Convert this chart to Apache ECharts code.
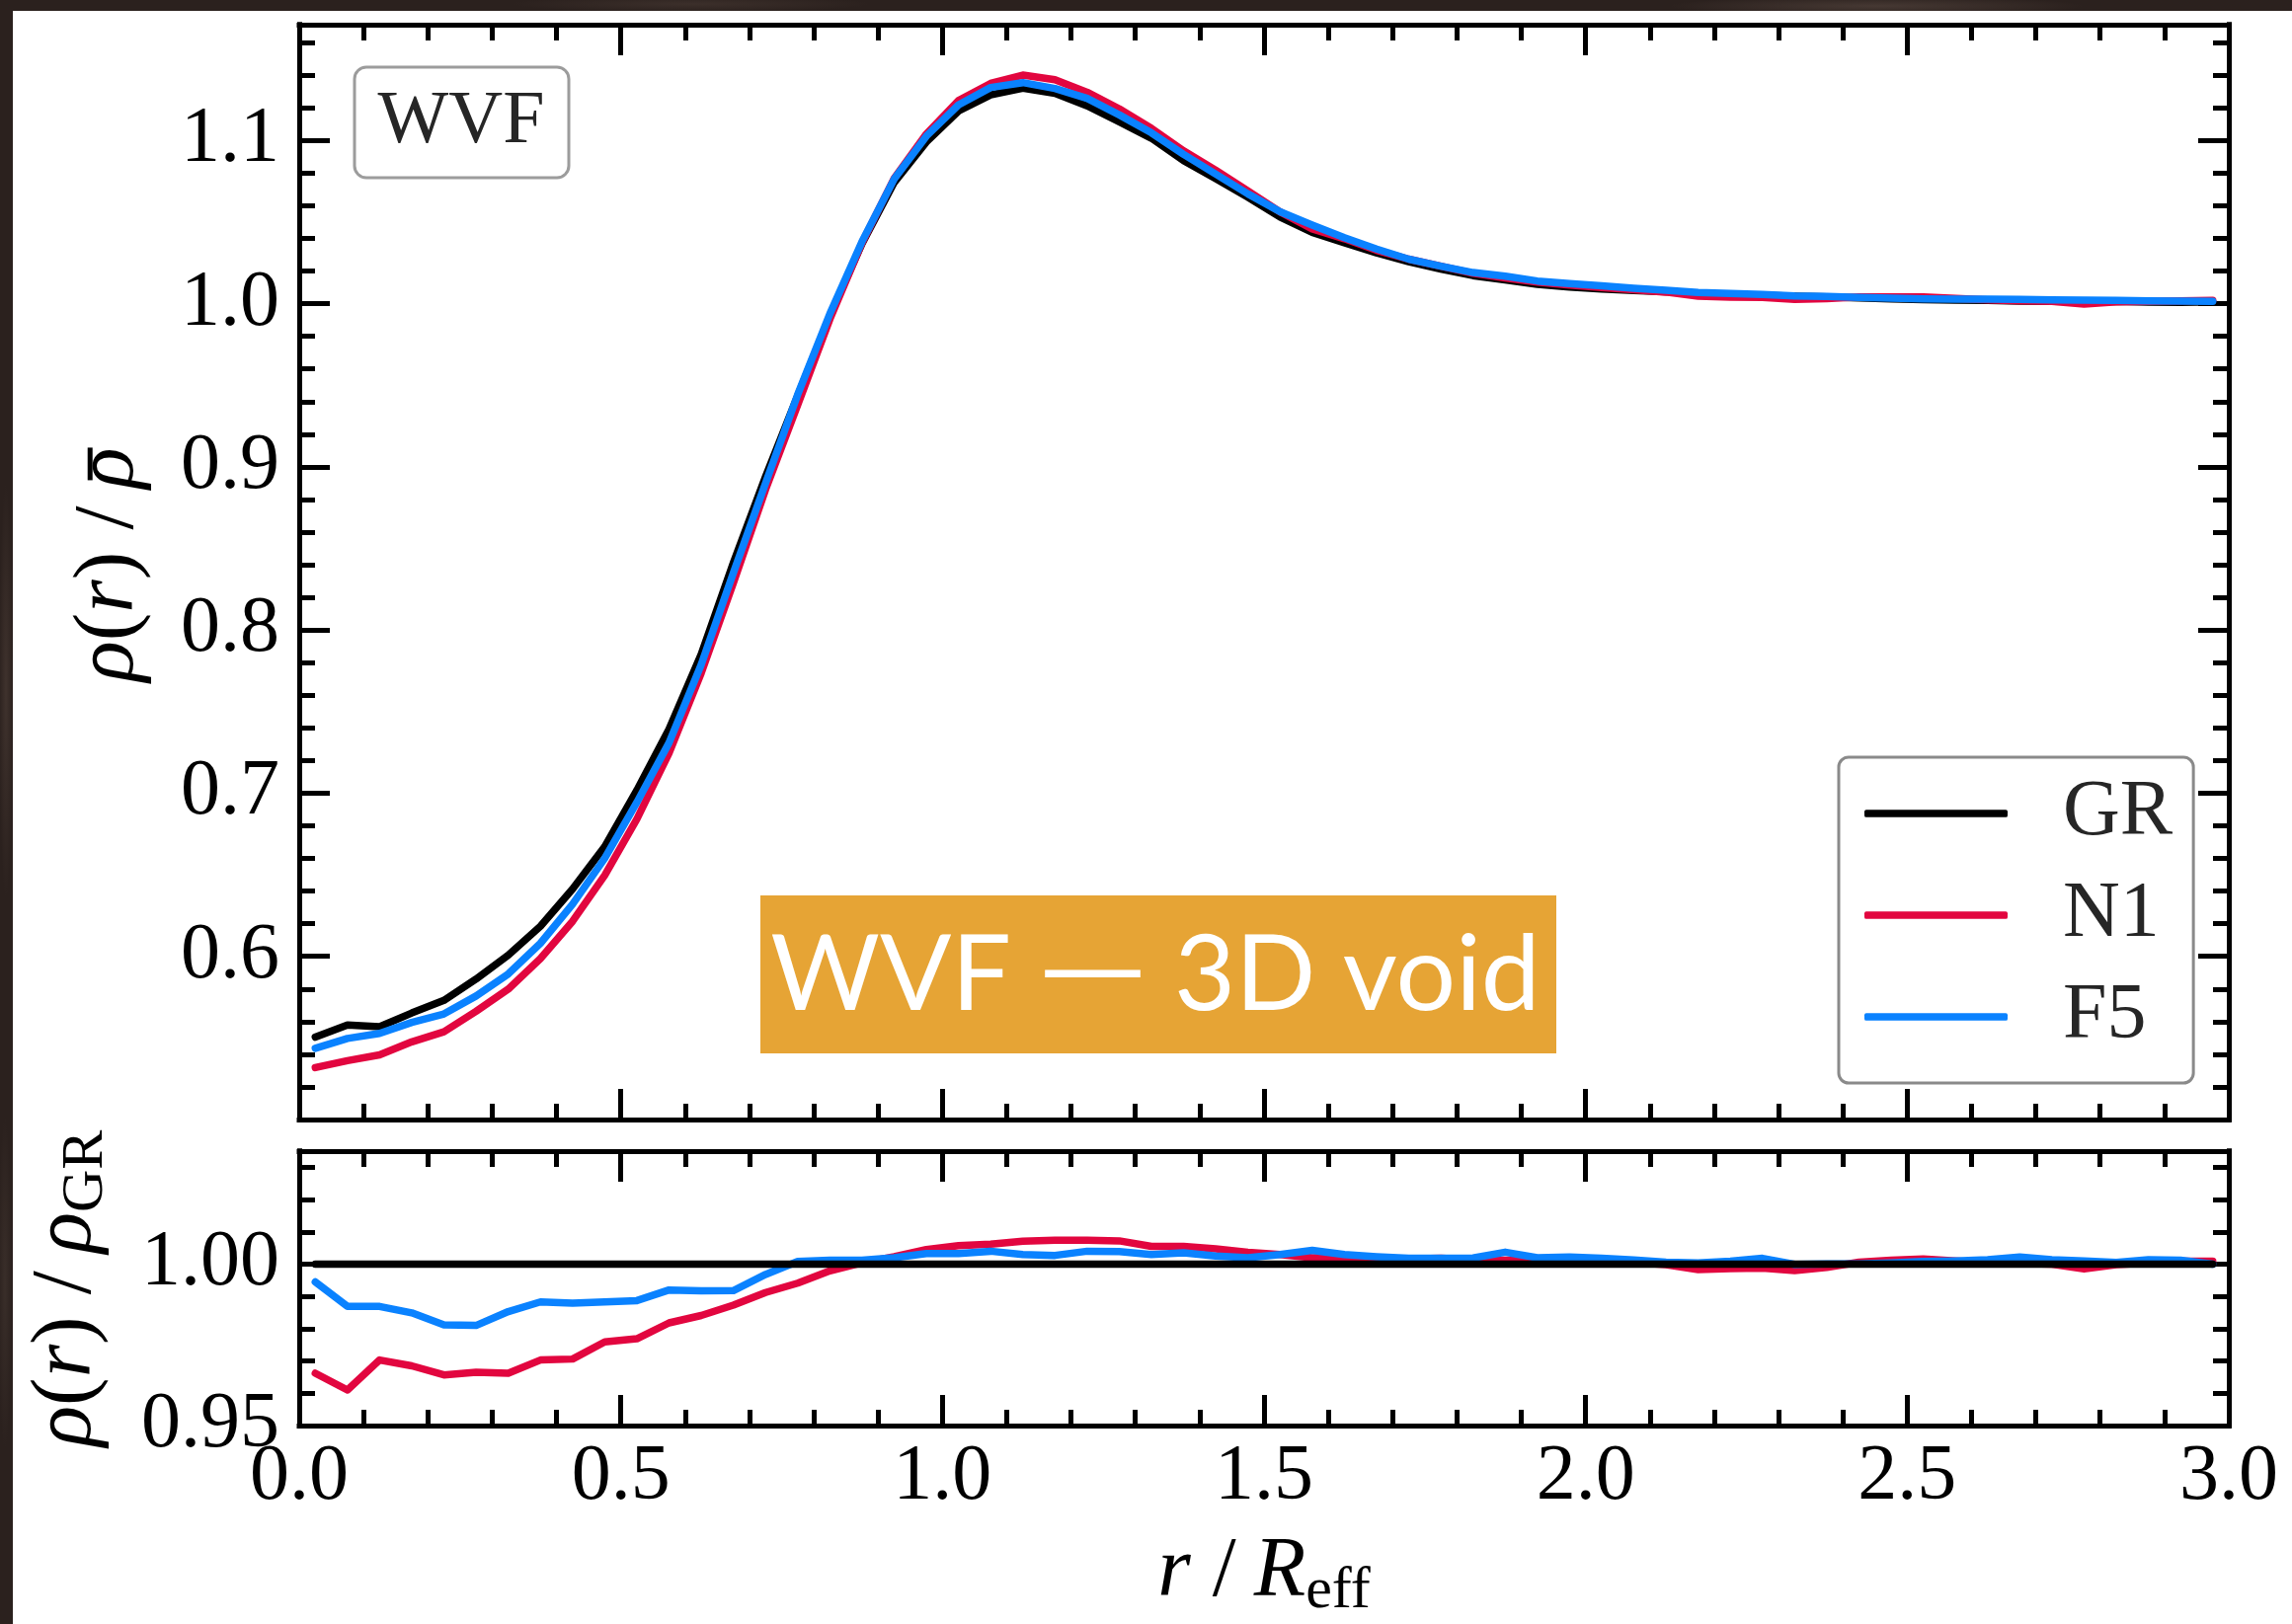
<!DOCTYPE html>
<html>
<head>
<meta charset="utf-8">
<title>WVF void density profile</title>
<script src="https://cdn.jsdelivr.net/npm/echarts@6/dist/echarts.min.js"></script>
<style>
  html, body { margin: 0; padding: 0; width: 2321px; height: 1645px; overflow: hidden; background: #2b211e; }
  #backdrop {
    position: absolute; left: 0; top: 0; width: 2321px; height: 1645px;
    background:
      radial-gradient(ellipse 300px 14px at 1900px 6px, rgba(120, 100, 90, 0.35), rgba(0,0,0,0) 70%),
      radial-gradient(ellipse 260px 12px at 700px 4px, rgba(110, 90, 80, 0.25), rgba(0,0,0,0) 70%),
      radial-gradient(ellipse 10px 300px at 6px 700px, rgba(110, 90, 80, 0.30), rgba(0,0,0,0) 70%),
      radial-gradient(ellipse 10px 240px at 5px 1300px, rgba(100, 85, 75, 0.25), rgba(0,0,0,0) 70%),
      #2b211e;
  }
  #sheet { position: absolute; left: 13px; top: 11px; right: 0; bottom: 0; background: #ffffff; }
  #chart { position: absolute; left: 0; top: 0; width: 2321px; height: 1645px; }
</style>
</head>
<body>
<div id="backdrop"></div>
<div id="sheet"></div>
<div id="chart"></div>
<script>
// Radial bins, r / R_eff
const r = [0.025, 0.075, 0.125, 0.175, 0.225, 0.275, 0.325, 0.375, 0.425, 0.475,
           0.525, 0.575, 0.625, 0.675, 0.725, 0.775, 0.825, 0.875, 0.925, 0.975,
           1.025, 1.075, 1.125, 1.175, 1.225, 1.275, 1.325, 1.375, 1.425, 1.475,
           1.525, 1.575, 1.625, 1.675, 1.725, 1.775, 1.825, 1.875, 1.925, 1.975,
           2.025, 2.075, 2.125, 2.175, 2.225, 2.275, 2.325, 2.375, 2.425, 2.475,
           2.525, 2.575, 2.625, 2.675, 2.725, 2.775, 2.825, 2.875, 2.925, 2.975];

// Stacked density profiles rho(r) / mean rho
const rhoGR = [0.5505, 0.5580, 0.5569, 0.5653, 0.5730, 0.5861, 0.6007, 0.6184, 0.6413, 0.6673,
               0.7018, 0.7393, 0.7851, 0.8413, 0.8940, 0.9435, 0.9926, 1.0369, 1.0743, 1.0991,
               1.1181, 1.1280, 1.1321, 1.1289, 1.1213, 1.1114, 1.1014, 1.0877, 1.0767, 1.0652,
               1.0531, 1.0437, 1.0374, 1.0311, 1.0257, 1.0212, 1.0172, 1.0146, 1.0118, 1.0102,
               1.0090, 1.0081, 1.0073, 1.0063, 1.0054, 1.0050, 1.0046, 1.0041, 1.0036, 1.0030,
               1.0025, 1.0022, 1.0020, 1.0016, 1.0014, 1.0013, 1.0014, 1.0010, 1.0008, 1.0012];
const rhoN1 = [0.5318, 0.5361, 0.5396, 0.5476, 0.5538, 0.5663, 0.5799, 0.5986, 0.6215, 0.6497,
               0.6841, 0.7246, 0.7736, 0.8288, 0.8860, 0.9379, 0.9905, 1.0373, 1.0768, 1.1040,
               1.1245, 1.1350, 1.1401, 1.1373, 1.1296, 1.1194, 1.1075, 1.0937, 1.0818, 1.0691,
               1.0563, 1.0458, 1.0398, 1.0327, 1.0273, 1.0230, 1.0186, 1.0158, 1.0132, 1.0114,
               1.0099, 1.0086, 1.0071, 1.0046, 1.0040, 1.0038, 1.0026, 1.0031, 1.0042, 1.0042,
               1.0041, 1.0032, 1.0024, 1.0018, 1.0014, 0.9998, 1.0012, 1.0014, 1.0017, 1.0021];
const rhoF5 = [0.5436, 0.5497, 0.5528, 0.5595, 0.5647, 0.5757, 0.5892, 0.6080, 0.6320, 0.6601,
               0.6944, 0.7309, 0.7788, 0.8350, 0.8900, 0.9443, 0.9938, 1.0381, 1.0764, 1.1027,
               1.1218, 1.1325, 1.1355, 1.1319, 1.1258, 1.1157, 1.1047, 1.0915, 1.0794, 1.0673,
               1.0563, 1.0482, 1.0405, 1.0335, 1.0273, 1.0230, 1.0191, 1.0169, 1.0139, 1.0123,
               1.0109, 1.0095, 1.0083, 1.0069, 1.0063, 1.0057, 1.0048, 1.0044, 1.0038, 1.0034,
               1.0030, 1.0028, 1.0028, 1.0026, 1.0024, 1.0022, 1.0020, 1.0018, 1.0016, 1.0014];

// Ratios to the GR profile
const ratioGR = [1, 1, 1, 1, 1, 1, 1, 1, 1, 1,
                 1, 1, 1, 1, 1, 1, 1, 1, 1, 1,
                 1, 1, 1, 1, 1, 1, 1, 1, 1, 1,
                 1, 1, 1, 1, 1, 1, 1, 1, 1, 1,
                 1, 1, 1, 1, 1, 1, 1, 1, 1, 1,
                 1, 1, 1, 1, 1, 1, 1, 1, 1, 1];
const ratioN1 = [0.9662, 0.9610, 0.9703, 0.9685, 0.9657, 0.9665, 0.9662, 0.9703, 0.9706, 0.9759,
                 0.9769, 0.9818, 0.9841, 0.9873, 0.9912, 0.9941, 0.9979, 1.0004, 1.0023, 1.0045,
                 1.0057, 1.0062, 1.0071, 1.0074, 1.0074, 1.0072, 1.0055, 1.0055, 1.0047, 1.0037,
                 1.0030, 1.0020, 1.0023, 1.0016, 1.0016, 1.0018, 1.0014, 1.0012, 1.0014, 1.0012,
                 1.0009, 1.0005, 0.9998, 0.9983, 0.9986, 0.9988, 0.9980, 0.9990, 1.0006, 1.0012,
                 1.0016, 1.0010, 1.0004, 1.0002, 1.0000, 0.9985, 0.9998, 1.0004, 1.0009, 1.0009];
const ratioF5 = [0.9945, 0.9869, 0.9869, 0.9849, 0.9812, 0.9810, 0.9853, 0.9883, 0.9879, 0.9883,
                 0.9887, 0.9920, 0.9917, 0.9918, 0.9968, 1.0008, 1.0012, 1.0012, 1.0020, 1.0033,
                 1.0033, 1.0040, 1.0030, 1.0027, 1.0040, 1.0039, 1.0030, 1.0035, 1.0025, 1.0020,
                 1.0030, 1.0043, 1.0030, 1.0023, 1.0018, 1.0018, 1.0019, 1.0037, 1.0020, 1.0022,
                 1.0018, 1.0013, 1.0006, 1.0004, 1.0009, 1.0018, 0.9999, 1.0001, 1.0001, 1.0004,
                 1.0008, 1.0010, 1.0014, 1.0022, 1.0014, 1.0010, 1.0005, 1.0014, 1.0012, 1.0000];

// Tick values for labelled axes
const xTicks = [0.0, 0.5, 1.0, 1.5, 2.0, 2.5, 3.0];
const mainYTicks = [0.6, 0.7, 0.8, 0.9, 1.0, 1.1];
const ratioYTicks = [0.95, 1.00];

const modelNames = ['GR', 'N1', 'F5'];
const modelColors = { GR: '#000000', N1: '#E2063F', F5: '#0A82FF' };

const SERIF = '"Liberation Serif", "Times New Roman", serif';
const SANS = 'Lato, "Open Sans", sans-serif';
const LABEL_SIZE = 80;
const TITLE_SIZE = 86;
const SUB_SIZE = 60;
const INK = '#000000';
const SLASH_PAD_L = 22, SLASH_PAD_R = 18;

const chart = echarts.init(document.getElementById('chart'), null, { renderer: 'canvas' });

const tickStyle = { color: INK, width: 5 };

// Rich-text styles shared by the axis titles
const titleRich = {
  i: { fontStyle: 'italic', fontFamily: SERIF, fontSize: TITLE_SIZE, color: INK, fill: INK },
  s: { fontFamily: SERIF, fontSize: SUB_SIZE, color: INK, fill: INK, padding: [38, 0, 0, 0] },
  t: { fontFamily: SERIF, fontSize: TITLE_SIZE, color: INK, fill: INK, padding: [0, SLASH_PAD_R, 0, SLASH_PAD_L] }
};

function isTick(v, list) {
  return list.some(t => Math.abs(t - v) < 1e-6);
}

function xAxis(gridIndex, position, withLabels) {
  const ax = {
    type: 'value', gridIndex, position, min: 0, max: 3, interval: 0.5,
    axisLine: { show: true, onZero: false, lineStyle: { color: INK, width: 5, cap: 'square' } },
    axisTick: { show: true, inside: true, length: 31, lineStyle: tickStyle },
    minorTick: { show: true, splitNumber: 5, length: 16, lineStyle: tickStyle },
    splitLine: { show: false }, minorSplitLine: { show: false },
    axisLabel: { show: false },
    nameMoveOverlap: false
  };
  if (withLabels) {
    ax.axisLabel = {
      show: true, margin: 13, color: INK, fontFamily: SERIF, fontSize: LABEL_SIZE,
      formatter: v => isTick(v, xTicks) ? v.toFixed(1) : ''
    };
    ax.name = '{i|r}{t|/}{i|R}{s|eff}';
    ax.nameLocation = 'middle';
    ax.nameGap = 100;
    ax.nameTextStyle = { color: INK, fontFamily: SERIF, fontSize: TITLE_SIZE, rich: titleRich };
  }
  return ax;
}

function yAxis(gridIndex, position, min, max, interval, tickLen, opts) {
  const ax = {
    type: 'value', gridIndex, position, min, max, interval,
    axisLine: { show: true, onZero: false, lineStyle: { color: INK, width: 5, cap: 'square' } },
    axisTick: { show: true, inside: true, length: tickLen, lineStyle: tickStyle },
    splitLine: { show: false },
    axisLabel: { show: false },
    nameMoveOverlap: false
  };
  if (opts && opts.labels) {
    ax.axisLabel = {
      show: true, margin: 20, color: INK, fontFamily: SERIF, fontSize: LABEL_SIZE,
      showMinLabel: true, showMaxLabel: true,
      formatter: v => isTick(v, opts.labels) ? v.toFixed(opts.digits) : ''
    };
    if (opts.name) {
      ax.name = opts.name;
      ax.nameLocation = 'middle';
      ax.nameRotate = 90;
      ax.nameGap = opts.nameGap;
      ax.nameTextStyle = { color: INK, fontFamily: SERIF, fontSize: TITLE_SIZE, rich: titleRich };
    }
  }
  return ax;
}

function pairs(xs, ys) { return xs.map((x, i) => [x, ys[i]]); }

function lineSeries(name, color, xi, yi, values, z) {
  return {
    type: 'line', name, xAxisIndex: xi, yAxisIndex: yi,
    data: pairs(r, values), showSymbol: false, symbol: 'none',
    lineStyle: { color, width: 7.5, cap: 'round', join: 'round' },
    itemStyle: { color },
    z, silent: true, animation: false, clip: true
  };
}

// Main-panel y title, rho(r) / rho-bar, with the bar drawn over the last rho
const measureCtx = document.createElement('canvas').getContext('2d');
function textWidth(str, font) { measureCtx.font = font; return measureCtx.measureText(str).width; }
const fItalic = 'italic ' + TITLE_SIZE + 'px ' + SERIF;
const fUpright = TITLE_SIZE + 'px ' + SERIF;
const wRho = textWidth('ρ', fItalic);
const titleWidth = 2 * wRho + textWidth('(', fUpright) + textWidth('r', fItalic) +
                   textWidth(')', fUpright) + textWidth('/', fUpright) + SLASH_PAD_L + SLASH_PAD_R;
const barCenterY = -0.23 * TITLE_SIZE;

const mainYTitle = {
  type: 'group', x: 111, y: 572, rotation: Math.PI / 2, z: 30,
  children: [
    {
      type: 'text', x: 0, y: 0,
      style: {
        text: '{i|ρ}({i|r}){t|/}{i|ρ}', rich: titleRich,
        fontFamily: SERIF, fontSize: TITLE_SIZE, fill: INK,
        align: 'center', verticalAlign: 'middle', textAlign: 'center', textVerticalAlign: 'middle'
      }
    },
    {
      type: 'rect',
      shape: { x: titleWidth / 2 - 0.80 * wRho, y: barCenterY - 2.5, width: 0.80 * wRho, height: 5 },
      style: { fill: INK }
    }
  ]
};

const MAIN_MIN = 0.5, MAIN_MAX = 1.171;
const RATIO_MIN = 0.95, RATIO_MAX = 1.035;

const option = {
  animation: false,
  backgroundColor: 'transparent',
  grid: [
    { left: 303, top: 25, width: 1954, height: 1109, containLabel: false, outerBoundsMode: 'none' },
    { left: 303, top: 1166, width: 1954, height: 278, containLabel: false, outerBoundsMode: 'none' }
  ],
  xAxis: [
    xAxis(0, 'bottom', false),
    xAxis(0, 'top', false),
    xAxis(1, 'bottom', true),
    xAxis(1, 'top', false)
  ],
  yAxis: [
    yAxis(0, 'left', MAIN_MIN, MAIN_MAX, 0.1, 31, { labels: mainYTicks, digits: 1 }),
    yAxis(0, 'left', MAIN_MIN, MAIN_MAX, 0.02, 16),
    yAxis(0, 'right', MAIN_MIN, MAIN_MAX, 0.1, 31),
    yAxis(0, 'right', MAIN_MIN, MAIN_MAX, 0.02, 16),
    yAxis(1, 'left', RATIO_MIN, RATIO_MAX, 0.05, 31, {
      labels: ratioYTicks, digits: 2, nameGap: 186,
      name: '{i|ρ}({i|r}){t|/}{i|ρ}{s|GR}'
    }),
    yAxis(1, 'left', RATIO_MIN, RATIO_MAX, 0.01, 16),
    yAxis(1, 'right', RATIO_MIN, RATIO_MAX, 0.05, 31),
    yAxis(1, 'right', RATIO_MIN, RATIO_MAX, 0.01, 16)
  ],
  legend: {
    show: true, data: modelNames, orient: 'vertical',
    left: 1862, top: 767,
    padding: [17, 21, 27, 26], itemGap: 23,
    itemWidth: 145, itemHeight: 7.5, icon: 'roundRect',
    backgroundColor: '#ffffff', borderColor: '#8a8a8a', borderWidth: 3, borderRadius: 10,
    selectedMode: false,
    formatter: name => '{t|' + name + '}',
    textStyle: {
      fontFamily: SERIF, fontSize: 80, color: '#262626',
      rich: { t: { fontFamily: SERIF, fontSize: 80, color: '#262626', padding: [0, 0, 0, 51] } }
    }
  },
  graphic: [
    mainYTitle,
    {
      type: 'rect', z: 20,
      shape: { x: 359, y: 68, width: 217, height: 112, r: 12 },
      style: { fill: '#ffffff', stroke: '#9c9c9c', lineWidth: 3 }
    },
    {
      type: 'text', z: 21, x: 467, y: 124,
      style: {
        text: 'WVF', fill: '#262626', fontFamily: SERIF, fontSize: 76,
        align: 'center', verticalAlign: 'middle', textAlign: 'center', textVerticalAlign: 'middle'
      }
    },
    {
      type: 'rect', z: 20,
      shape: { x: 770, y: 907, width: 806, height: 160 },
      style: { fill: '#E6A435' }
    },
    {
      type: 'text', z: 21, x: 1170, y: 988,
      style: {
        text: '{a|WVF}{d|\u2014}{a|3D void}',
        rich: {
          a: { fontFamily: SANS, fontSize: 107, fill: '#ffffff' },
          d: { fontFamily: '"DejaVu Sans", sans-serif', fontSize: 107, fill: '#ffffff', padding: [0, 29, 0, 29] }
        },
        fill: '#ffffff', fontFamily: SANS, fontSize: 107,
        align: 'center', verticalAlign: 'middle', textAlign: 'center', textVerticalAlign: 'middle'
      }
    }
  ],
  series: [
    lineSeries('GR', modelColors.GR, 0, 0, rhoGR, 3),
    lineSeries('N1', modelColors.N1, 0, 0, rhoN1, 4),
    lineSeries('F5', modelColors.F5, 0, 0, rhoF5, 5),
    lineSeries('N1 / GR', modelColors.N1, 2, 4, ratioN1, 3),
    lineSeries('F5 / GR', modelColors.F5, 2, 4, ratioF5, 4),
    lineSeries('GR / GR', modelColors.GR, 2, 4, ratioGR, 5)
  ]
};

chart.setOption(option);
</script>
</body>
</html>
